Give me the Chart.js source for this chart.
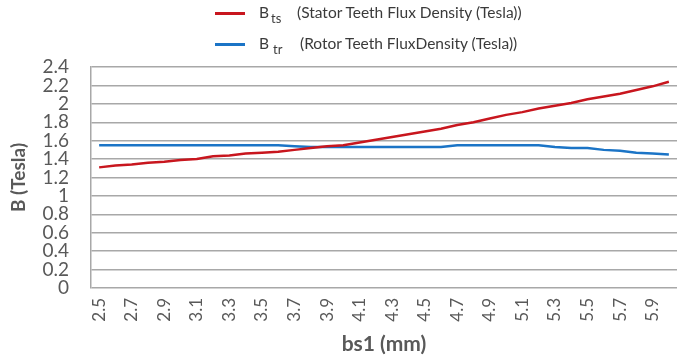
<!DOCTYPE html>
<html>
<head>
<meta charset="utf-8">
<script src="https://cdn.jsdelivr.net/npm/chart.js@4"></script>
<style>
  html, body { margin: 0; padding: 0; background: #fff; }
  #wrap { position: relative; width: 677px; height: 360px; }
  canvas { position: absolute; left: 0; top: 0; }
  .leg { position: absolute; font-family: Lato, "Open Sans", sans-serif; font-size: 15.5px; color: #3a3a3a; white-space: nowrap; }
  .sw { position: absolute; width: 30px; height: 3px; }
  .sub { font-size: 13px; position: relative; top: 5px; }
</style>
</head>
<body>
<div id="wrap">
  <canvas id="c" width="677" height="360"></canvas>
  <div class="sw" style="left:215px;top:12px;background:#c8161e;"></div>
  <div class="leg" style="left:259px;top:3px;">B<span class="sub" style="margin-left:2px">ts</span></div>
  <div class="leg" style="left:297px;top:3px;">(Stator Teeth Flux Density (Tesla))</div>
  <div class="sw" style="left:215px;top:43px;background:#1b74c6;"></div>
  <div class="leg" style="left:259px;top:34px;">B<span class="sub" style="margin-left:4px">tr</span></div>
  <div class="leg" style="left:300px;top:34px;">(Rotor Teeth FluxDensity (Tesla))</div>
</div>
<script>
const categories = ["2.5","2.6","2.7","2.8","2.9","3.0","3.1","3.2","3.3","3.4","3.5","3.6","3.7","3.8","3.9","4.0","4.1","4.2","4.3","4.4","4.5","4.6","4.7","4.8","4.9","5.0","5.1","5.2","5.3","5.4","5.5","5.6","5.7","5.8","5.9","6.0"];
const statorTeeth = [1.31,1.33,1.34,1.36,1.37,1.39,1.40,1.43,1.44,1.46,1.47,1.48,1.50,1.52,1.54,1.55,1.58,1.61,1.64,1.67,1.70,1.73,1.77,1.80,1.84,1.88,1.91,1.95,1.98,2.01,2.05,2.08,2.11,2.15,2.19,2.24];
const rotorTeeth  = [1.55,1.55,1.55,1.55,1.55,1.55,1.55,1.55,1.55,1.55,1.55,1.55,1.54,1.53,1.53,1.53,1.53,1.53,1.53,1.53,1.53,1.53,1.55,1.55,1.55,1.55,1.55,1.55,1.53,1.52,1.52,1.50,1.49,1.47,1.46,1.45];
const seriesNames = ["Bts (Stator Teeth Flux Density (Tesla))", "Btr (Rotor Teeth FluxDensity (Tesla))"];
const yTitle = "B (Tesla)";
const xTitle = "bs1 (mm)";

const FONT = "Lato, 'Open Sans', sans-serif";
const gridColor = "#a8a8a8";

new Chart(document.getElementById("c"), {
  type: "line",
  data: {
    labels: categories,
    datasets: [
      { label: seriesNames[0], data: statorTeeth, borderColor: "#c8161e", backgroundColor: "#c8161e", borderWidth: 2.5, pointRadius: 0, tension: 0 },
      { label: seriesNames[1], data: rotorTeeth, borderColor: "#1b74c6", backgroundColor: "#1b74c6", borderWidth: 2.5, pointRadius: 0, tension: 0 }
    ]
  },
  options: {
    responsive: false,
    animation: false,
    devicePixelRatio: 1,
    layout: { padding: { top: 67, left: 4, right: 0, bottom: 0 } },
    plugins: { legend: { display: false }, tooltip: { enabled: false } },
    scales: {
      x: {
        offset: true,
        grid: { display: false, drawTicks: false },
        border: { display: false },
        ticks: {
          autoSkip: false, maxRotation: 90, minRotation: 90, padding: 10,
          color: "#595959", font: { family: FONT, size: 17 },
          callback: function(v, i) { return i % 2 === 0 ? categories[i] : ""; }
        },
        title: { display: true, text: xTitle, color: "#595959", font: { family: FONT, size: 21, weight: "bold" }, padding: { top: 2, bottom: 3 } },
        afterFit: function(s) { s.height = 72; s.paddingLeft = 0; s.paddingRight = 0; }
      },
      y: {
        min: 0, max: 2.4,
        grid: { color: gridColor, lineWidth: 1.5, drawTicks: false },
        border: { display: true, color: gridColor, width: 1.5 },
        ticks: {
          stepSize: 0.2, autoSkip: false, padding: 22, color: "#595959", font: { family: FONT, size: 19 },
          callback: function(v) { return String(+v.toFixed(1)); }
        },
        title: { display: true, text: yTitle, color: "#595959", font: { family: FONT, size: 19, weight: "bold" }, padding: { top: 3, bottom: 4 } },
        afterFit: function(s) { s.width = 87; }
      }
    }
  }
});
</script>
</body>
</html>
